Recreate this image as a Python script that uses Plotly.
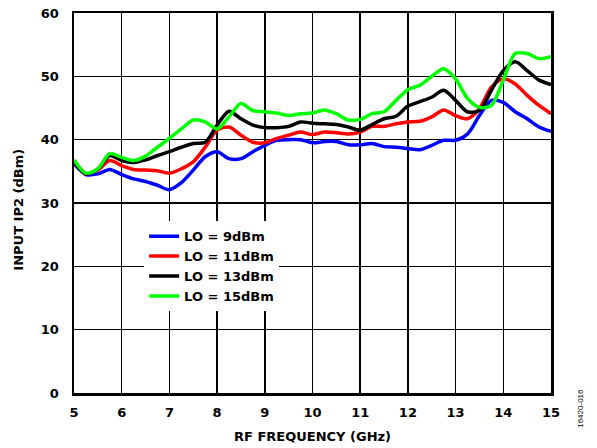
import plotly.graph_objects as go

freq = [5, 5.25, 5.5, 5.75, 6, 6.25, 6.5, 6.75, 7, 7.25, 7.5, 7.75, 8, 8.25, 8.5, 8.75,
        9, 9.25, 9.5, 9.75, 10, 10.25, 10.5, 10.75, 11, 11.25, 11.5, 11.75, 12, 12.25,
        12.5, 12.75, 13, 13.25, 13.5, 13.75, 14, 14.25, 14.5, 14.75, 15]

lo9 = [36.2, 34.5, 34.6, 35.3, 34.5, 33.8, 33.4, 32.8, 32.1, 33.2, 35.2, 37.3, 38.1, 37.0,
       37.0, 38.1, 39.1, 39.9, 40.0, 40.0, 39.5, 39.7, 39.7, 39.2, 39.2, 39.4, 38.9, 38.8,
       38.6, 38.4, 39.1, 39.9, 39.9, 40.9, 43.8, 46.2, 45.9, 44.4, 43.3, 42.0, 41.3]
lo11 = [36.7, 34.6, 35.2, 36.7, 35.9, 35.3, 35.2, 35.1, 34.7, 35.4, 36.5, 38.8, 41.5, 42.0,
        40.7, 39.6, 39.5, 40.2, 40.7, 41.2, 40.8, 41.2, 41.1, 40.9, 41.2, 42.1, 42.1, 42.5,
        42.8, 42.9, 43.6, 44.7, 43.8, 43.3, 44.9, 48.3, 49.6, 48.8, 47.0, 45.4, 44.1]
lo13 = [36.7, 34.6, 35.4, 37.5, 36.7, 36.4, 36.8, 37.5, 38.1, 38.8, 39.4, 39.6, 42.3, 44.5,
        43.3, 42.3, 41.9, 41.9, 42.1, 42.8, 42.6, 42.5, 42.4, 42.0, 41.5, 42.4, 43.3, 43.7,
        45.3, 46.0, 46.7, 47.8, 46.2, 44.4, 44.6, 47.8, 50.9, 52.3, 50.9, 49.4, 48.7]
lo15 = [36.8, 34.7, 35.4, 37.8, 37.2, 36.7, 37.4, 38.8, 40.2, 41.7, 43.1, 42.8, 41.7, 43.6,
        45.7, 44.6, 44.4, 44.2, 43.8, 44.1, 44.2, 44.7, 44.1, 43.1, 43.2, 44.1, 44.4, 46.2,
        47.9, 48.6, 50.0, 51.2, 49.6, 46.5, 45.1, 45.4, 49.4, 53.6, 53.6, 52.8, 53.1]

names = ["LO = 9dBm", "LO = 11dBm", "LO = 13dBm", "LO = 15dBm"]
colors = ["#0000FF", "#FF0000", "#000000", "#00FF00"]

FONT = "DejaVu Sans, sans-serif"

fig = go.Figure()
for name, ys, c in zip(names, [lo9, lo11, lo13, lo15], colors):
    fig.add_trace(go.Scatter(x=freq, y=ys, mode="lines", name="<b>" + name + "</b>",
                             line=dict(color=c, width=3.5, shape="spline", smoothing=0.8)))

fig.update_layout(
    width=597, height=448,
    margin=dict(l=74, r=46, t=13, b=55, autoexpand=False),
    paper_bgcolor="white", plot_bgcolor="white",
    font=dict(family=FONT, size=13, color="black"),
    showlegend=True,
    legend=dict(x=0.147, y=0.452, xanchor="left", yanchor="top",
                bgcolor="white", borderwidth=0,
                font=dict(family=FONT, size=13, color="black"),
                tracegroupgap=0, itemwidth=30),
)
fig.update_xaxes(range=[5, 15], dtick=1, tick0=5, automargin=False,
                 showgrid=True, gridcolor="black", gridwidth=1.5,
                 showline=True, linecolor="black", linewidth=2.5, mirror=True,
                 ticks="", zeroline=False, ticklabelstandoff=6, ticklabeloverflow="allow",
                 tickfont=dict(family=FONT, size=13, color="black", weight="bold"))
fig.update_yaxes(range=[0, 60], dtick=10, automargin=False,
                 showgrid=True, gridcolor="black", gridwidth=1.5,
                 showline=True, linecolor="black", linewidth=2.5, mirror=True,
                 ticks="", zeroline=False, ticklabelstandoff=10, ticklabeloverflow="allow",
                 tickfont=dict(family=FONT, size=13, color="black", weight="bold"))

fig.add_annotation(text="<b>RF FREQUENCY (GHz)</b>", xref="paper", yref="paper",
                   x=0.5, y=-0.114, xanchor="center", yanchor="middle", showarrow=False,
                   font=dict(family=FONT, size=13, color="black"))
fig.add_annotation(text="<b>INPUT IP2 (dBm)</b>", xref="paper", yref="paper",
                   x=-0.117, y=0.483, xanchor="center", yanchor="middle", showarrow=False,
                   textangle=-90, font=dict(family=FONT, size=13, color="black"))
fig.add_annotation(text="16420-016", xref="paper", yref="paper", x=1.062, y=-0.040,
                   textangle=-90, showarrow=False, xanchor="center", yanchor="middle",
                   font=dict(family="Liberation Sans, Arial, sans-serif", size=8, color="black"))

fig.write_html("out.html", config={"displayModeBar": False, "staticPlot": True},
               post_script="document.body.style.margin='0';document.body.style.padding='0';")
